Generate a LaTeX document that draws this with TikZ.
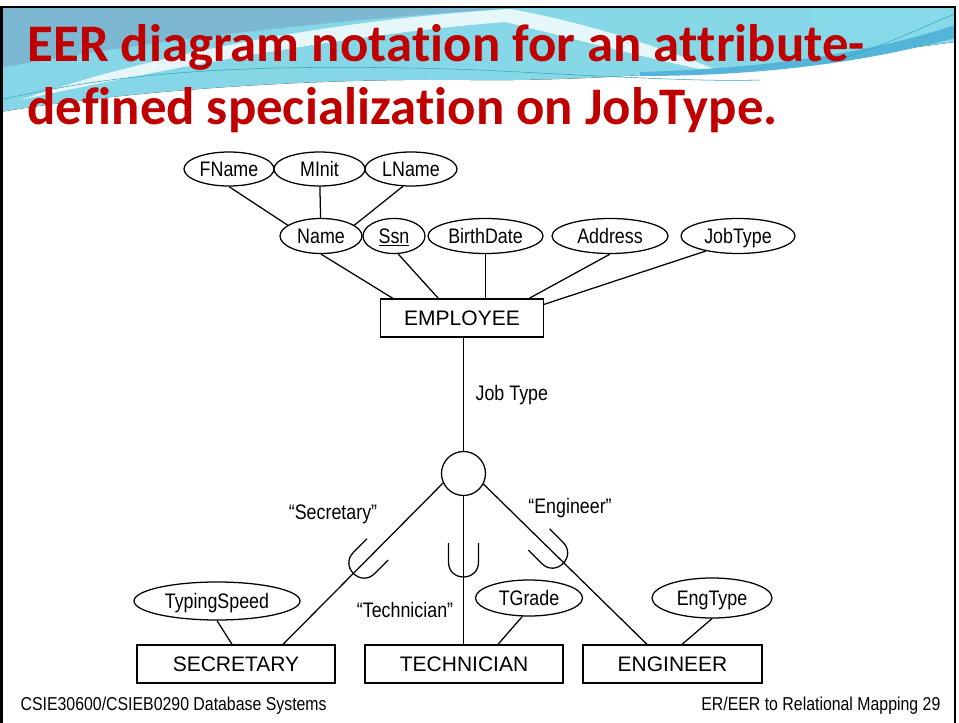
\documentclass[tikz,border=0pt]{standalone}
\usepackage{fontspec}
\setmainfont{Liberation Sans}
\newfontfamily\titlefont[Renderer=OpenType, Ligatures={NoCommon,NoRequired,NoContextual}]{Carlito}
\newfontfamily\narrowfont[FakeStretch=0.85]{Liberation Sans}
\usetikzlibrary{calc,shapes.geometric}

\definecolor{titlered}{HTML}{C00000}
\definecolor{wavesteel}{HTML}{7DB8D2}
\definecolor{wavecyan}{HTML}{86D9E8}
\definecolor{waveblue}{HTML}{55B5D8}
\definecolor{waveline}{HTML}{2FA8B8}

% break a ligature in the title
\newcommand{\nolig}{\kern0pt{}}

\tikzset{
  subsetcup/.pic={\draw (-15,-17) -- (-15,2) .. controls (-15,22) and (15,22) .. (15,2) -- (15,-17);}
}

\begin{document}
\begin{tikzpicture}[x=0.75pt, y=-0.75pt, line width=0.95pt,
  attr/.style 2 args={ellipse, draw, inner sep=0pt, minimum width=#1*0.75pt, minimum height=#2*0.75pt,
    font=\narrowfont\fontsize{15.75}{18}\selectfont, text height=12.5pt, text depth=1.25pt},
  entity/.style={rectangle, draw, inner sep=0pt, minimum width=#1*0.75pt, minimum height=28.5pt,
    font=\fontsize{15.75}{18}\selectfont, text height=12.5pt, text depth=1.25pt},
  labeltext/.style={inner sep=0pt, font=\narrowfont\fontsize{15.75}{18}\selectfont},
  title/.style={anchor=base west, inner sep=0pt, text=titlered, font=\titlefont\bfseries\fontsize{39.6}{47}\selectfont},
  footer/.style={inner sep=0pt, font=\narrowfont\fontsize{14}{16}\selectfont}]
\useasboundingbox (0,0) rectangle (959,723);
\fill[white] (0,0) rectangle (959,723);

% slide background (waves at the top)
\fill[left color=wavecyan!90!wavesteel, right color=wavecyan] (0,8) -- (955,8) -- (955,42)
  .. controls (820,60) and (640,82) .. (470,80) .. controls (300,78) and (120,92) .. (0,112) -- cycle;
\fill[wavesteel] (0,8) -- (520,8) .. controls (350,18) and (150,40) .. (0,68) -- cycle;
\fill[white, opacity=0.8] (20,100) .. controls (150,55) and (330,20) .. (510,9) .. controls (600,25) and (680,55) .. (730,75)
  .. controls (660,62) and (580,40) .. (505,22) .. controls (340,35) and (160,70) .. (20,100) -- cycle;
\fill[waveblue] (640,72) .. controls (780,68) and (880,50) .. (955,25) -- (955,38) .. controls (880,58) and (780,76) .. (640,76) -- cycle;
\draw[waveline, line width=0.4pt] (0,100) .. controls (120,72) and (250,62) .. (480,70) .. controls (600,76) and (700,82) .. (760,80);
\draw[waveline, line width=0.4pt] (830,62) .. controls (880,48) and (920,28) .. (955,14);
\draw[line width=2.2pt] (1.5,723) -- (1.5,7) -- (955,7) -- (955,723);

% title and footer
\node (title1)      [title]                         at (27,62)    {EER diagram nota\nolig tion for an at\nolig tribute-};
\node (title2)      [title]                         at (27,125)   {def\nolig ined specializa\nolig tion on JobType.};
\node (course)      [footer, anchor=base west]      at (20,710)   {CSIE30600/CSIEB0290 Database Systems};
\node (pageno)      [footer, anchor=base east]      at (941,710)  {ER/EER to Relational Mapping 29};

% Specification of nodes (position, etc.)
\node (fname)       [attr={90}{34}]                 at (229,169)  {FName};
\node (minit)       [attr={91}{34}]                 at (319.5,169){MInit};
\node (lname)       [attr={92}{34}]                 at (411,169)  {LName};

\node (name)        [attr={82}{35}]                 at (321,236)  {Name};
\node (ssn)         [attr={62}{35}]                 at (394,236)  {\underline{Ssn}};
\node (birthdate)   [attr={115}{35}]                at (485.5,236){BirthDate};
\node (address)     [attr={116}{35}]                at (610,236)  {Address};
\node (jobtype)     [attr={114}{35}]                at (738,236)  {JobType};

\node (employee)    [entity=163]                    at (462,318)  {EMPLOYEE};
\node (gen)         [circle, draw, inner sep=0pt, minimum size=33pt] at (463.5,473.5) {};
\node (jobtypelbl)  [labeltext, anchor=west]        at (475,395)  {Job Type};

\node (seclbl)      [labeltext]                     at (333,514)  {“Secretary”};
\node (englbl)      [labeltext]                     at (570,508)  {“Engineer”};
\node (techlbl)     [labeltext]                     at (405,610)  {“Technician”};

\node (typingspeed) [attr={166}{38}]                at (217,601)  {TypingSpeed};
\node (tgrade)      [attr={107}{36}]                at (529,598)  {TGrade};
\node (engtype)     [attr={120}{40}]                at (712,598)  {EngType};

\node (secretary)   [entity=198]                    at (236,664)  {SECRETARY};
\node (technician)  [entity=198]                    at (464,664)  {TECHNICIAN};
\node (engineer)    [entity=179]                    at (672.5,664){ENGINEER};

\draw             (fname.south) -- (name.162);
\draw             (minit) -- (name);
\draw             (lname.245) -- (name.18);

\draw             (name.south) -- ($(employee.north west)+(13,0)$);
\draw             (ssn.-77) -- ($(employee.north west)+(58.5,0)$);
\draw             (birthdate.south) -- (birthdate.south |- employee.north);
\draw             (address.south) -- ($(employee.north east)+(-15,0)$);
\draw             (jobtype.205) -- ($(employee.north east)+(0,6)$);

\draw             (employee.south -| gen.north) -- (gen.north);
\draw             (gen.205) -- ($(secretary.north)+(47,0)$);
\draw             (gen.south) -- (gen.south |- technician.north);
\draw             (gen.-28) -- ($(engineer.north)+(-25.5,0)$);

\pic[rotate=-45]  at (365.5,561.5) {subsetcup};
\pic              at (463.5,560)   {subsetcup};
\pic[rotate=45]   at (551,551.5)   {subsetcup};

\draw             (typingspeed.south) -- ($(secretary.north)+(-4,0)$);
\draw             (tgrade.250) -- ($(technician.north)+(34,0)$);
\draw             (engtype.south) -- ($(engineer.north)+(9.5,0)$);

\end{tikzpicture}
\end{document}
